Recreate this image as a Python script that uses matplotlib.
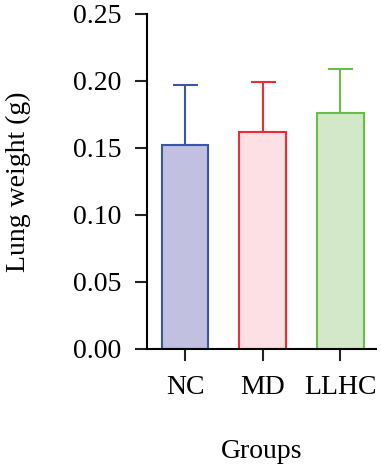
import matplotlib
matplotlib.use("Agg")
from matplotlib import pyplot as plt

# Data
groups = ['NC', 'MD', 'LLHC']
means = [0.152, 0.162, 0.176]
errors = [0.045, 0.037, 0.033]
fills = ['#c2c0e0', '#fde0e3', '#d3e8c9']
edges = ['#3d55a6', '#ee2b36', '#6cbd47']

plt.rcParams['font.family'] = ['Liberation Serif', 'DejaVu Serif']

fig = plt.figure(dpi=100, figsize=(3.81, 4.65))
ax = fig.add_axes([0.386, 0.2495, 0.601, 0.7205])

x = range(len(groups))
ax.bar(x, means, width=0.6, color=fills, edgecolor=edges, linewidth=1.5, zorder=2)
for i in x:
    ax.errorbar(i, means[i], yerr=[[0], [errors[i]]], fmt='none',
                ecolor=edges[i], elinewidth=1.5, capsize=9, capthick=1.5, zorder=1)

ax.set_xlim(-0.49, 2.46)
ax.set_ylim(0, 0.25)
ax.set_yticks([0.0, 0.05, 0.10, 0.15, 0.20, 0.25])
ax.set_yticklabels(['0.00', '0.05', '0.10', '0.15', '0.20', '0.25'])
ax.set_xticks(list(x))
ax.set_xticklabels(groups)

ax.spines['top'].set_visible(False)
ax.spines['right'].set_visible(False)
ax.spines['left'].set_linewidth(1.5)
ax.spines['bottom'].set_linewidth(1.5)
ax.tick_params(axis='both', which='major', labelsize=20, length=8.5, width=1.5, color='#222222')
ax.tick_params(axis='x', pad=10)
ax.tick_params(axis='y', pad=10)

ax.set_xlabel('Groups', fontsize=20, labelpad=28)
ax.set_ylabel('Lung weight (g)', fontsize=20, labelpad=30)

fig.savefig('out.png', dpi=100)
